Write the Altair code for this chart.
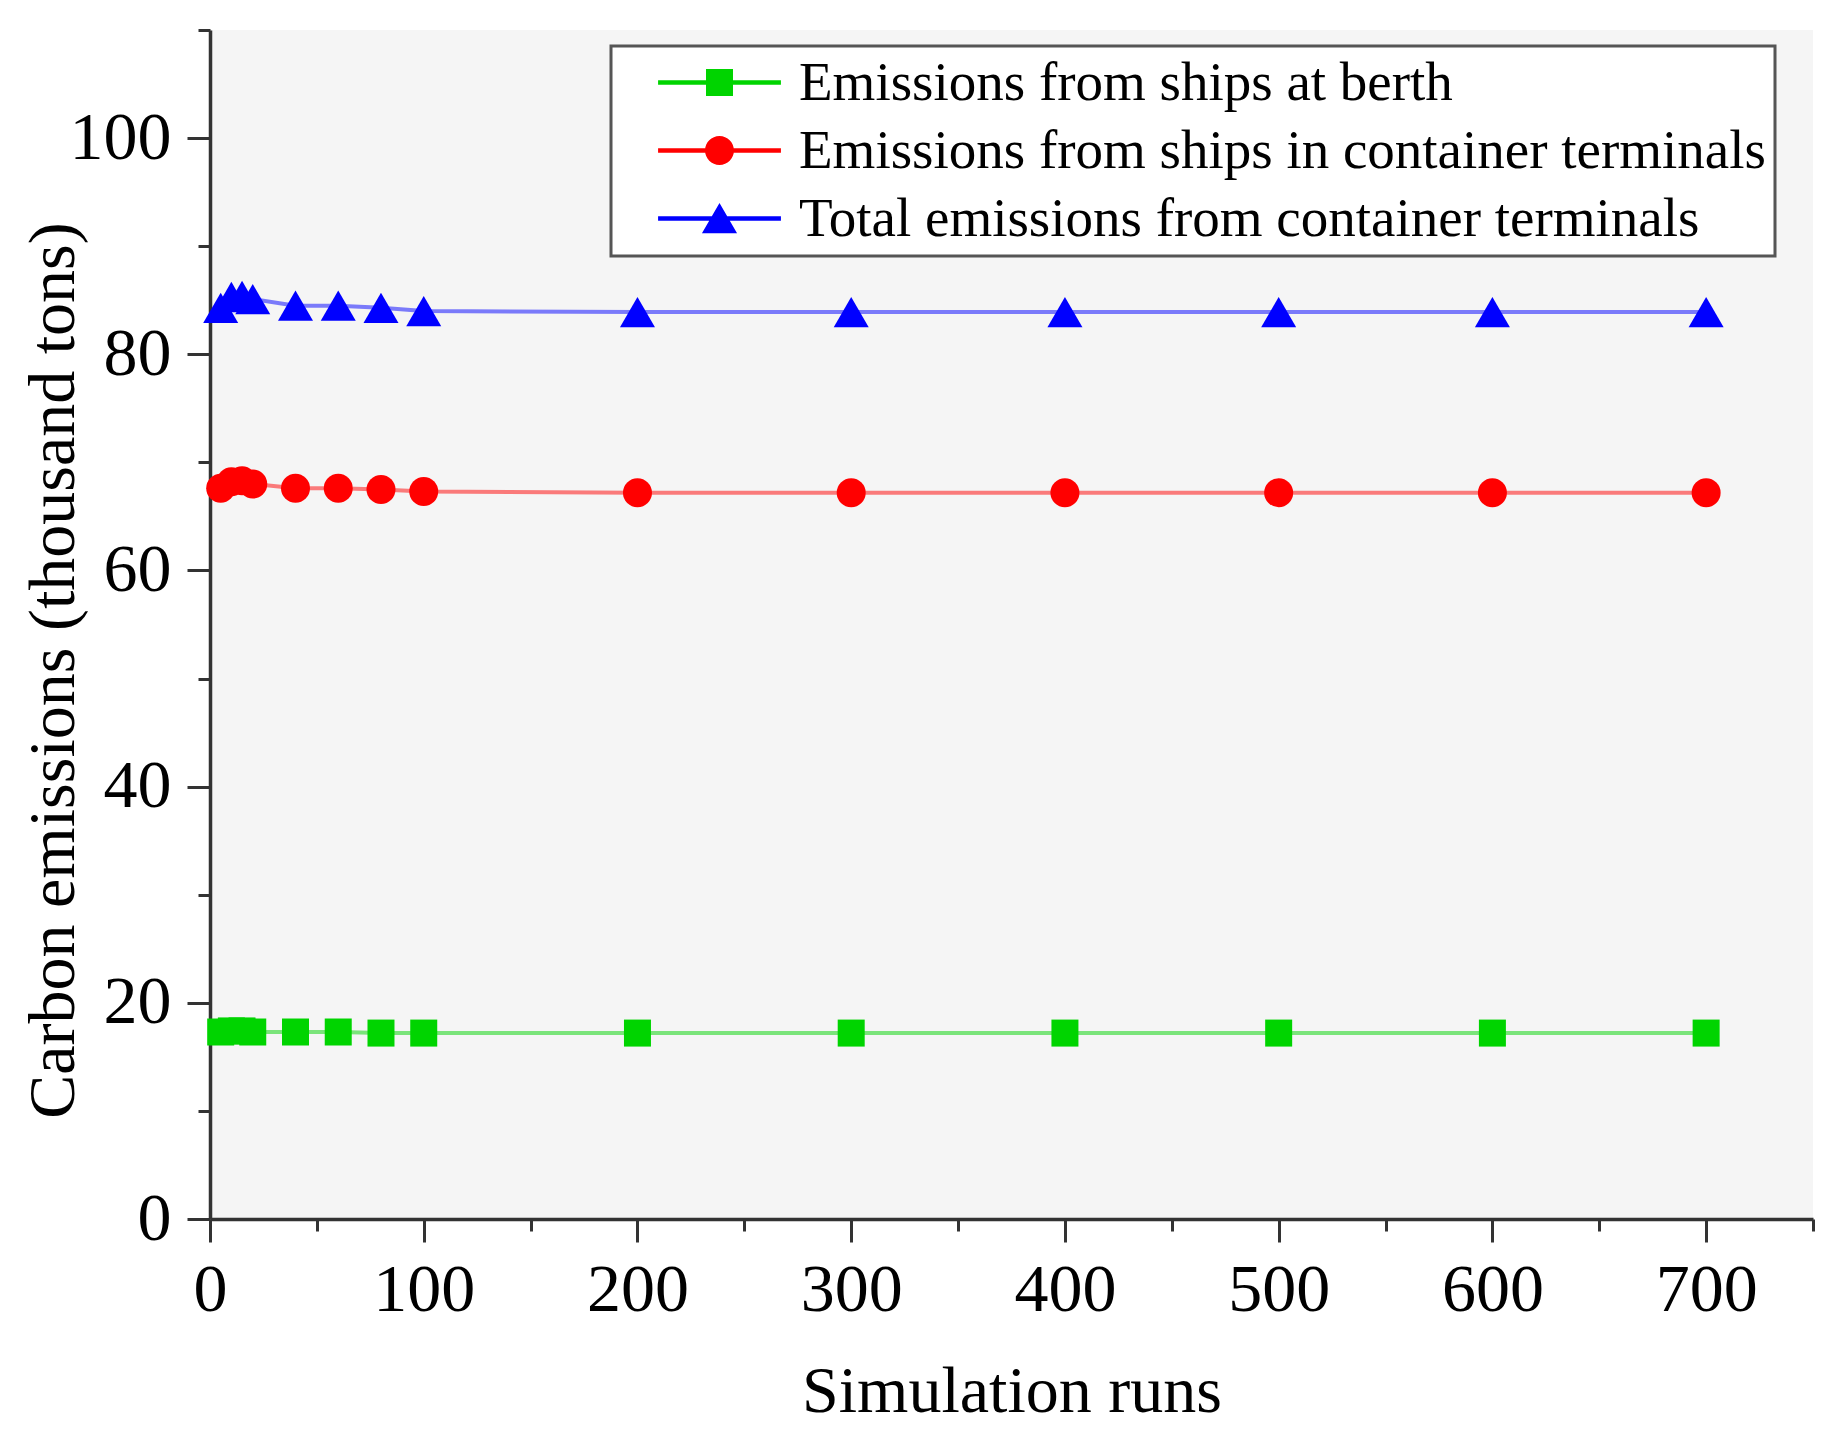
import altair as alt
import pandas as pd

# ---------------- data ----------------
runs = [5, 10, 15, 20, 40, 60, 80, 100, 200, 300, 400, 500, 600, 700]
berth = [17.3, 17.4, 17.4, 17.3, 17.3, 17.3, 17.2, 17.2, 17.2, 17.2, 17.2, 17.2, 17.2, 17.2]
ships = [67.6, 68.2, 68.3, 68.0, 67.6, 67.6, 67.5, 67.3, 67.2, 67.2, 67.2, 67.2, 67.2, 67.2]
total = [84.3, 85.3, 85.4, 85.1, 84.5, 84.5, 84.3, 84.0, 83.9, 83.9, 83.9, 83.9, 83.9, 83.9]

series_names = [
    "Emissions from ships at berth",
    "Emissions from ships in container terminals",
    "Total emissions from container terminals",
]
series_values = [berth, ships, total]
marker_colors = ["#00d400", "#ff0000", "#0000ff"]
marker_shapes = ["square", "circle", "triangle-up"]
marker_sizes = [729, 841, 1225]

x_major = [0, 100, 200, 300, 400, 500, 600, 700]
x_minor = [50, 150, 250, 350, 450, 550, 650, 750]
y_major = [0, 20, 40, 60, 80, 100]
y_minor = [10, 30, 50, 70, 90, 110]

rows = []
for name, vals in zip(series_names, series_values):
    for r, v in zip(runs, vals):
        rows.append({"runs": r, "value": v, "series": name})
df = pd.DataFrame(rows)

FONT = "Liberation Serif"
W, H = 1603, 1189

# legend symbol paths (line segment + marker), unit = 13.5 px
LINE = "M-4.55,-0.16H4.55V0.16H-4.55Z"
SYM = [
    LINE + "M-1,-1H1V1H-1Z",
    LINE + "M1.07,0A1.07,1.07,0,1,1,-1.07,0A1.07,1.07,0,1,1,1.07,0Z",
    LINE + "M0,-1.15L1.3,1.1H-1.3Z",
]
sym_expr = "datum.value === '%s' ? '%s' : (datum.value === '%s' ? '%s' : '%s')" % (
    series_names[0], SYM[0], series_names[1], SYM[1], SYM[2])


def build(use_expr=True, use_sw=True):
    x_scale = alt.Scale(domain=[0, 750], nice=False, zero=False)
    y_scale = alt.Scale(domain=[0, 110], nice=False)
    # colour scale carries the legend (explicit domain); the other channels use the
    # data-driven domain (alphabetical = same order) so their hidden legends do not merge
    color_scale = alt.Scale(domain=series_names, range=marker_colors)

    major_x = alt.Axis(values=x_major, title="Simulation runs", tickSize=23,
                       labelPadding=14, labelFlush=False, grid=False, orient="bottom",
                       titleY=192, titleBaseline="alphabetic")
    major_y = alt.Axis(values=y_major, title="Carbon emissions (thousand tons)",
                       tickSize=23, labelPadding=16, labelFlush=False, grid=False, orient="left",
                       titleX=-157, titleY=640, titleBaseline="middle", titleAngle=270)
    minor_x = alt.Axis(values=x_minor, title=None, tickSize=12, labels=False,
                       domain=False, grid=False, orient="bottom")
    minor_y = alt.Axis(values=y_minor, title=None, tickSize=12, labels=False,
                       domain=False, grid=False, orient="left")

    leg = dict(
        title=None, orient="none", legendX=401, legendY=16,
        symbolSize=729, symbolStrokeWidth=0, symbolOpacity=1,
        symbolOffset=72, labelOffset=52,
        labelFont=FONT, labelFontSize=55, labelColor="black", labelLimit=3000,
        rowPadding=12, padding=9, fillColor="white", strokeColor="#555555",
    )
    if use_expr:
        leg["symbolType"] = alt.ExprRef(expr=sym_expr)

    lines = alt.Chart(df).mark_line(strokeWidth=4, opacity=0.5).encode(
        x=alt.X("runs:Q", scale=x_scale, axis=major_x),
        y=alt.Y("value:Q", scale=y_scale, axis=major_y),
        stroke=alt.Stroke("series:N", scale=alt.Scale(range=marker_colors), legend=None),
    )
    points = alt.Chart(df).mark_point(filled=True, opacity=1).encode(
        x=alt.X("runs:Q", scale=x_scale, axis=minor_x),
        y=alt.Y("value:Q", scale=y_scale, axis=minor_y),
        color=alt.Color("series:N", scale=color_scale, legend=alt.Legend(**leg)),
        shape=alt.Shape("series:N", scale=alt.Scale(range=marker_shapes), legend=None),
        size=alt.Size("series:N", scale=alt.Scale(type="ordinal", range=marker_sizes),
                      legend=None),
    )

    legend_cfg = dict()
    if use_sw:
        legend_cfg["strokeWidth"] = 3

    chart = (
        alt.layer(lines, points)
        .resolve_axis(x="independent", y="independent")
        .properties(
            width=W, height=H,
            autosize=alt.AutoSizeParams(type="none"),
            padding={"left": 202, "top": 22, "right": 20, "bottom": 213},
            background="white",
        )
        .configure_view(fill="#f5f5f5", stroke=None)
        .configure_axis(
            domainColor="#333333", domainWidth=3.5, tickColor="#333333", tickWidth=3,
            labelFont=FONT, labelFontSize=68, labelColor="black",
            titleFont=FONT, titleFontSize=66, titleColor="black", titleFontWeight="normal",
            labelOverlap=False,
        )
    )
    if legend_cfg:
        chart = chart.configure_legend(**legend_cfg)
    return chart


for opts in [(True, True), (True, False), (False, False)]:
    try:
        chart = build(*opts)
        chart.save("out.html", embed_options={"renderer": "svg", "actions": False})
        print("saved with", opts)
        break
    except Exception as e:
        print("failed", opts, e)
